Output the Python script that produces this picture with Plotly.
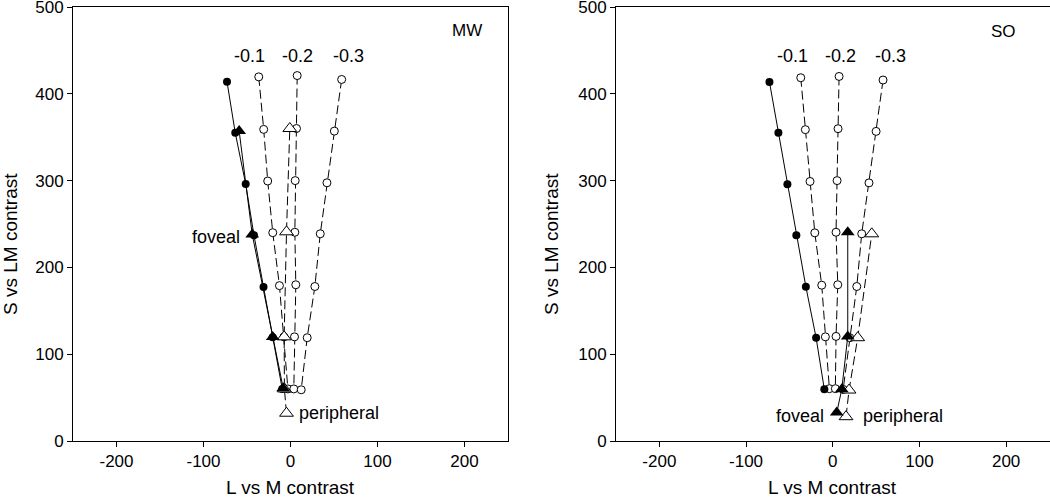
import plotly.graph_objects as go

# ---------------- data ----------------
# Left panel (MW)
mw_filled_x = [-73, -63.5, -51.5, -42, -31, -20.5, -9.5]
mw_filled_y = [414, 355, 296, 237, 177.5, 119.5, 60]
mw_n01_x = [-36.5, -30.8, -26.2, -20.4, -12.7, -7.5, -3]
mw_n01_y = [419.5, 359, 299.5, 240, 179, 120, 60]
mw_n02_x = [7.7, 6.9, 5.4, 5.0, 6.1, 4.6, 3.8]
mw_n02_y = [421, 360, 300, 240.5, 180, 120, 60]
mw_n03_x = [58.8, 50.4, 41.9, 34.2, 28, 19.2, 12.3]
mw_n03_y = [416.5, 357, 297.5, 238.7, 178, 119, 59]
mw_fov_x = [-8.4, -20.4, -44, -59]
mw_fov_y = [60.8, 119.7, 238, 357]
mw_per_x = [-4.6, -7, -7.3, -4.6, -0.8]
mw_per_y = [32, 60, 120, 241, 360]

# Right panel (SO)
so_filled_x = [-73, -62.7, -52.3, -42, -31, -19.2, -9.7]
so_filled_y = [413.6, 355, 295.7, 237, 177.7, 119, 59.5]
so_n01_x = [-36.9, -31.6, -26.2, -20.7, -12.7, -8.5, -3.9]
so_n01_y = [418.5, 358.7, 299, 239.8, 179.5, 120, 60.3]
so_n02_x = [7.3, 6.1, 5.0, 3.8, 5.8, 3.8, 3.0]
so_n02_y = [420, 359.8, 300, 240.5, 180, 120.5, 60.3]
so_n03_x = [58, 50, 41.8, 33.4, 27.7, 19.6, 12]
so_n03_y = [415.9, 356.7, 297.4, 238.7, 178, 119, 59.5]
so_fov_x = [4.6, 10.4, 17.3, 17.3]
so_fov_y = [32.7, 59.5, 120.5, 240.5]
so_per_x = [15.3, 18.8, 28.8, 45]
so_per_y = [28, 58.7, 119, 238.7]

line_labels = ["-0.1", "-0.2", "-0.3"]
line_label_x = [-47, 8.6, 66.4]
line_label_y = 443

x_ticks = [-200, -100, 0, 100, 200]
x_tick_text = ["-200", "-100", "0", "100", "200"]
y_ticks = [0, 100, 200, 300, 400, 500]
y_tick_text = ["0", "100", "200", "300", "400", "500"]

FONT = "Liberation Sans, Arial, sans-serif"
DASH = "9px,4px"

fig = go.Figure()


def add_panel(xa, ya, filled, n01, n02, n03, fov, per):
    for sx, sy in (n01, n02, n03):
        fig.add_trace(go.Scatter(
            x=sx, y=sy, mode="lines+markers", xaxis=xa, yaxis=ya,
            line=dict(color="black", width=1, dash=DASH),
            marker=dict(symbol="circle", size=8, color="white",
                        line=dict(color="black", width=1)),
            showlegend=False, hoverinfo="skip"))
    fig.add_trace(go.Scatter(
        x=filled[0], y=filled[1], mode="lines+markers", xaxis=xa, yaxis=ya,
        line=dict(color="black", width=1),
        marker=dict(symbol="circle", size=8, color="black"),
        showlegend=False, hoverinfo="skip"))
    fig.add_trace(go.Scatter(
        x=per[0], y=per[1], mode="lines+markers", xaxis=xa, yaxis=ya,
        line=dict(color="black", width=1, dash=DASH),
        marker=dict(symbol="triangle-up", size=12, color="white",
                    line=dict(color="black", width=1)),
        showlegend=False, hoverinfo="skip"))
    fig.add_trace(go.Scatter(
        x=fov[0], y=fov[1], mode="lines+markers", xaxis=xa, yaxis=ya,
        line=dict(color="black", width=1),
        marker=dict(symbol="triangle-up", size=12, color="black"),
        showlegend=False, hoverinfo="skip"))


add_panel("x", "y", (mw_filled_x, mw_filled_y), (mw_n01_x, mw_n01_y),
          (mw_n02_x, mw_n02_y), (mw_n03_x, mw_n03_y),
          (mw_fov_x, mw_fov_y), (mw_per_x, mw_per_y))
add_panel("x2", "y2", (so_filled_x, so_filled_y), (so_n01_x, so_n01_y),
          (so_n02_x, so_n02_y), (so_n03_x, so_n03_y),
          (so_fov_x, so_fov_y), (so_per_x, so_per_y))

W, H = 1050, 497
ML, MR, MT, MB = 0, 0, 7, 56
plot_h = H - MT - MB

axis_common = dict(
    showline=True, linecolor="black", linewidth=1, mirror=True,
    ticks="outside", ticklen=5, tickcolor="black", tickwidth=1,
    showgrid=False, zeroline=False, automargin=False,
    ticklabeloverflow="allow",
    tickfont=dict(family=FONT, size=17, color="black"),
)

fig.update_layout(
    width=W, height=H,
    margin=dict(l=ML, r=MR, t=MT, b=MB),
    plot_bgcolor="white", paper_bgcolor="white",
    font=dict(family=FONT, color="black"),
    xaxis=dict(domain=[73 / W, 508 / W], range=[-250, 250],
               tickvals=x_ticks, ticktext=x_tick_text, anchor="y",
               **axis_common),
    yaxis=dict(domain=[0, 1], range=[0, 500], tickvals=y_ticks,
               ticktext=y_tick_text, anchor="x", **axis_common),
    xaxis2=dict(domain=[616 / W, 1049.5 / W], range=[-250, 250],
                tickvals=x_ticks, ticktext=x_tick_text, anchor="y2",
                **axis_common),
    yaxis2=dict(domain=[0, 1], range=[0, 500], tickvals=y_ticks,
                ticktext=y_tick_text, anchor="x2", **axis_common),
)

ann = []
for xr, yr in (("x", "y"), ("x2", "y2")):
    for lab, lx in zip(line_labels, line_label_x):
        ann.append(dict(x=lx, y=line_label_y, xref=xr, yref=yr, text=lab,
                        showarrow=False, xanchor="center", yanchor="middle",
                        font=dict(family=FONT, size=18)))

ann += [
    dict(x=203, y=472.5, xref="x", yref="y", text="MW", showarrow=False,
         xanchor="center", yanchor="middle", font=dict(family=FONT, size=17)),
    dict(x=197, y=471.5, xref="x2", yref="y2", text="SO", showarrow=False,
         xanchor="center", yanchor="middle", font=dict(family=FONT, size=17)),
    dict(x=-56, y=235, xref="x", yref="y", text="foveal", showarrow=False,
         xanchor="right", yanchor="middle", font=dict(family=FONT, size=18)),
    dict(x=7.5, y=32, xref="x", yref="y", text="peripheral", showarrow=False,
         xanchor="left", yanchor="middle", font=dict(family=FONT, size=18)),
    dict(x=-8, y=29, xref="x2", yref="y2", text="foveal", showarrow=False,
         xanchor="right", yanchor="middle", font=dict(family=FONT, size=18)),
    dict(x=33, y=29, xref="x2", yref="y2", text="peripheral", showarrow=False,
         xanchor="left", yanchor="middle", font=dict(family=FONT, size=18)),
]

# axis titles
for cx in (290, 832.7):
    ann.append(dict(x=cx / W, y=-(487.5 - (H - MB)) / plot_h, xref="paper",
                    yref="paper", text="L vs M contrast", showarrow=False,
                    xanchor="center", yanchor="middle",
                    font=dict(family=FONT, size=19)))
for cx in (10, 551):
    ann.append(dict(x=cx / W, y=(H - MB - 244) / plot_h, xref="paper",
                    yref="paper", text="S vs LM contrast", showarrow=False,
                    textangle=-90, xanchor="center", yanchor="middle",
                    font=dict(family=FONT, size=19)))

fig.update_layout(annotations=ann)
fig.write_html(
    "out.html",
    config={"displayModeBar": False},
    post_script="document.body.style.margin='0';"
                "document.body.style.overflow='hidden';",
)
